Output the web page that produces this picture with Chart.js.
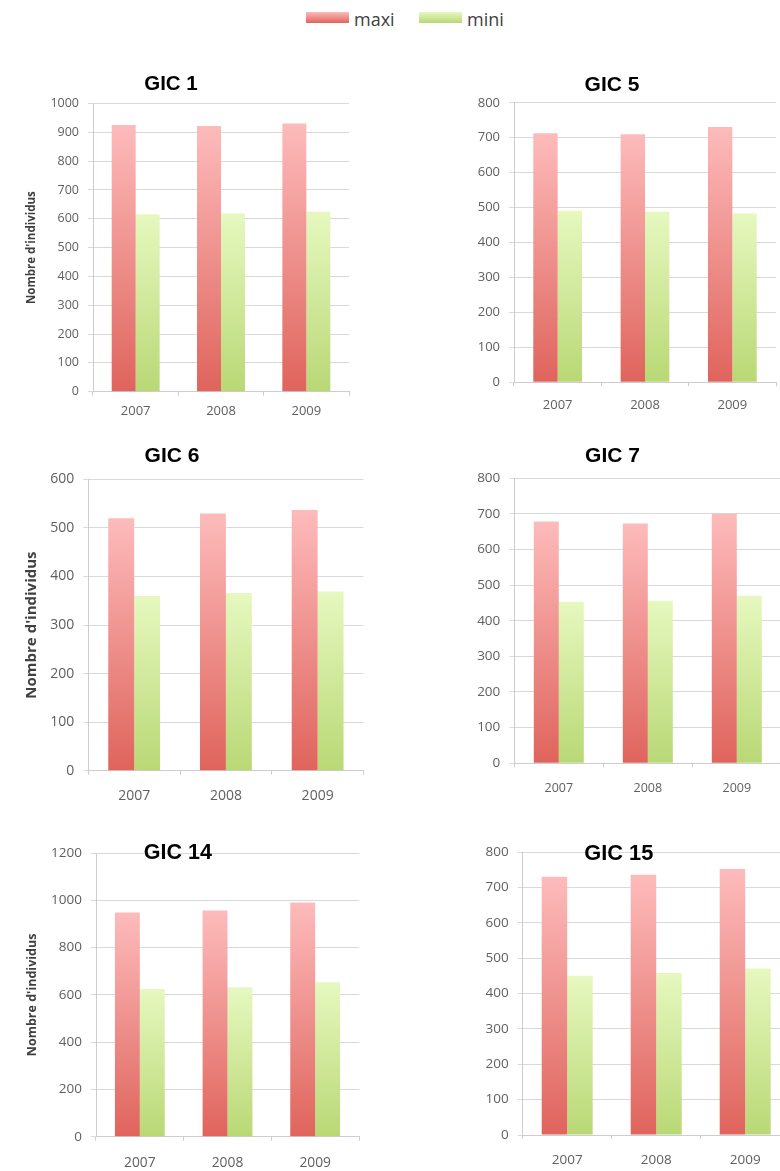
<!DOCTYPE html>
<html>
<head>
<meta charset="utf-8">
<script src="https://cdn.jsdelivr.net/npm/chart.js@4.4.1/dist/chart.umd.min.js"></script>
<style>
  html, body { margin: 0; padding: 0; background: #fff; }
  body { position: relative; width: 780px; height: 1171px; overflow: hidden; }
  canvas { position: absolute; }
  .gic-title { position: absolute; font-family: "Liberation Sans", Arial, sans-serif; font-weight: bold;
               color: #000; transform: translate(-50%, -50%); white-space: nowrap; line-height: 1; }
  .legend { position: absolute; top: 0; left: 0; }
  .legend .box { position: absolute; width: 43px; height: 11px; top: 12px; }
  .legend .lbl { position: absolute; top: 10px; font: 18px "Open Sans", sans-serif; line-height: 18px; color: #3f3f3f; }
</style>
</head>
<body>
<div class="legend" id="legend"></div>
<script>
// Years on the category axis and the two series of each GIC
const years = ['2007', '2008', '2009'];
const seriesNames = ['maxi', 'mini'];
const panelTitles = ['GIC 1', 'GIC 5', 'GIC 6', 'GIC 7', 'GIC 14', 'GIC 15'];
const yAxisTitle = "Nombre d'individus";

const gic1Maxi  = [925, 922, 931];
const gic1Mini  = [616, 618, 624];
const gic5Maxi  = [713, 710, 731];
const gic5Mini  = [491, 488, 483];
const gic6Maxi  = [520, 530, 537];
const gic6Mini  = [360, 366, 369];
const gic7Maxi  = [678, 673, 700];
const gic7Mini  = [453, 456, 470];
const gic14Maxi = [949, 957, 991];
const gic14Mini = [625, 632, 653];
const gic15Maxi = [730, 736, 752];
const gic15Mini = [450, 458, 471];

const yMaxes = [1000, 800, 600, 800, 1200, 800];
const ySteps = [100, 100, 100, 100, 200, 100];

const maxiSeries = [gic1Maxi, gic5Maxi, gic6Maxi, gic7Maxi, gic14Maxi, gic15Maxi];
const miniSeries = [gic1Mini, gic5Mini, gic6Mini, gic7Mini, gic14Mini, gic15Mini];

// Colours: vertical gradients, light at the top of each bar
const maxiTop = '#fdbbbb', maxiBottom = '#df645c';
const miniTop = '#e6f8bf', miniBottom = '#b9d875';

// Page layout of each panel: plot area [left, top, right, bottom], column start,
// y-title centre (or null), font sizes, x-label centre line, title centre
const panels = [
  { plot: [93, 101.7, 349, 391.7],     col: 0,   yTitleX: 32,  yTitleSize: 11.5, tick: 12.5, xSize: 13,   xLabelY: 411,   title: [171, 82.5],  titleSize: 20.5, cat: 0.562 },
  { plot: [514, 100, 776, 382.3],      col: 390, yTitleX: null, yTitleSize: 0,   tick: 13,   xSize: 13,   xLabelY: 405,   title: [612, 82.5],  titleSize: 21,   cat: 0.558 },
  { plot: [88.3, 476, 363.5, 770.7],   col: 0,   yTitleX: 32,  yTitleSize: 15,   tick: 14,   xSize: 14,   xLabelY: 796.3, title: [172, 454],   titleSize: 21,   cat: 0.565 },
  { plot: [514.3, 475, 781.3, 763.3],  col: 390, yTitleX: null, yTitleSize: 0,   tick: 13.5, xSize: 12.5, xLabelY: 788,   title: [612.5, 454], titleSize: 21,   cat: 0.562 },
  { plot: [96, 850, 359, 1136.7],      col: 0,   yTitleX: 32,  yTitleSize: 12.5, tick: 13.5, xSize: 13.8, xLabelY: 1163,  title: [177.8, 852.5], titleSize: 21.5, cat: 0.568 },
  { plot: [522.7, 849, 789.7, 1135],   col: 390, yTitleX: null, yTitleSize: 0,   tick: 13.5, xSize: 13.5, xLabelY: 1160,  title: [618.8, 852.5], titleSize: 21.8, cat: 0.573 }
];

const tickColor = '#606060';
const gridColor = '#d9d9d9';
const axisColor = '#cdcdcd';
const yTickLen = 5, yTickPad = 9, xTickLen = 4;

function barFill(top, bottom) {
  return (ctx) => {
    const chart = ctx.chart;
    const y = chart.scales && chart.scales.y;
    if (!y || ctx.type !== 'data') return bottom;
    const y0 = y.getPixelForValue(ctx.raw);
    const y1 = y.getPixelForValue(0);
    if (!isFinite(y0) || !isFinite(y1) || y0 === y1) return bottom;
    const g = chart.ctx.createLinearGradient(0, y0, 0, y1);
    g.addColorStop(0, top);
    g.addColorStop(1, bottom);
    return g;
  };
}

panels.forEach((p, i) => {
  const [pl, pt, pr, pb] = p.plot;
  const cLeft = p.col;
  const cTop = Math.floor(pt - 14);
  const cRight = Math.ceil(pr + 10);
  const cBottom = Math.ceil(pb + 40);
  const cw = cRight - cLeft, ch = cBottom - cTop;

  const canvas = document.createElement('canvas');
  canvas.width = cw; canvas.height = ch;
  canvas.style.left = cLeft + 'px'; canvas.style.top = cTop + 'px';
  canvas.style.width = cw + 'px'; canvas.style.height = ch + 'px';
  document.body.appendChild(canvas);

  const titleLH = p.yTitleSize * 1.2;
  const axisLeft = p.yTitleX !== null ? p.yTitleX - titleLH / 2 : cLeft + 2;
  const yWidth = pl - axisLeft;
  const xHeight = cBottom - pb;
  const xPad = (p.xLabelY - pb) - xTickLen - 0.6 * p.xSize;

  new Chart(canvas, {
    type: 'bar',
    data: {
      labels: years,
      datasets: [
        { label: seriesNames[0], data: maxiSeries[i], backgroundColor: barFill(maxiTop, maxiBottom), borderWidth: 0 },
        { label: seriesNames[1], data: miniSeries[i], backgroundColor: barFill(miniTop, miniBottom), borderWidth: 0 }
      ]
    },
    options: {
      responsive: false,
      devicePixelRatio: 1,
      animation: false,
      events: [],
      layout: { padding: { left: axisLeft - cLeft, top: pt - cTop, right: cRight - pr, bottom: 0 } },
      datasets: { bar: { categoryPercentage: p.cat, barPercentage: 1 } },
      plugins: { legend: { display: false }, tooltip: { enabled: false }, title: { display: false } },
      scales: {
        x: {
          grid: { display: true, drawOnChartArea: false, drawTicks: true, tickLength: xTickLen, color: axisColor, offset: true },
          border: { display: true, color: axisColor },
          ticks: { color: tickColor, font: { family: 'Open Sans', size: p.xSize }, padding: xPad, maxRotation: 0 },
          afterFit: (s) => { s.height = xHeight; }
        },
        y: {
          min: 0, max: yMaxes[i],
          ticks: {
            stepSize: ySteps[i], color: tickColor, font: { family: 'Open Sans', size: p.tick }, padding: yTickPad,
            callback: (v) => String(v)
          },
          grid: { color: gridColor, tickLength: yTickLen, tickColor: gridColor },
          border: { display: true, color: axisColor },
          title: {
            display: p.yTitleX !== null,
            text: yAxisTitle,
            color: '#404040',
            padding: 0,
            font: { family: 'Open Sans', weight: 'bold', size: p.yTitleSize || 12 }
          },
          afterFit: (s) => { s.width = yWidth; }
        }
      }
    }
  });

  const t = document.createElement('div');
  t.className = 'gic-title';
  t.textContent = panelTitles[i];
  t.style.left = p.title[0] + 'px';
  t.style.top = p.title[1] + 'px';
  t.style.fontSize = p.titleSize + 'px';
  document.body.appendChild(t);
});

// Shared legend above the panels
const legend = document.getElementById('legend');
const legendItems = [
  { name: seriesNames[0], box: 306, text: 354, top: maxiTop, bottom: maxiBottom },
  { name: seriesNames[1], box: 419, text: 467, top: miniTop, bottom: miniBottom }
];
legendItems.forEach((it) => {
  const b = document.createElement('div');
  b.className = 'box';
  b.style.left = it.box + 'px';
  b.style.background = 'linear-gradient(to bottom, ' + it.top + ', ' + it.bottom + ')';
  legend.appendChild(b);
  const l = document.createElement('div');
  l.className = 'lbl';
  l.style.left = it.text + 'px';
  l.textContent = it.name;
  legend.appendChild(l);
});
</script>
</body>
</html>
